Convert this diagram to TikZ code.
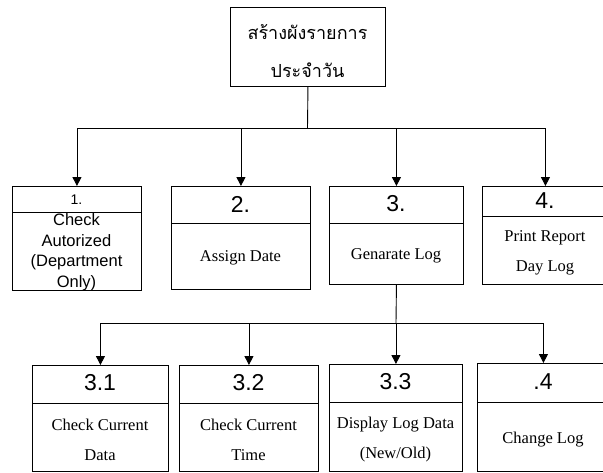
\documentclass[tikz,border=0pt]{standalone}
\usepackage{fontspec}
\setmainfont{Liberation Serif}
\newfontfamily\numfont{Liberation Sans}
\newfontfamily\thaifont[Script=Thai]{Loma}
\usetikzlibrary{arrows.meta}
\tikzset{
  box/.style={draw, line width=0.9pt, anchor=north west, inner sep=0pt},
  bignum/.style={font=\numfont\fontsize{23}{23}\selectfont, inner sep=0pt},
  smallnum/.style={font=\numfont\fontsize{14}{14}\selectfont, inner sep=0pt},
  sanstext/.style={font=\numfont\fontsize{16.5}{20.5}\selectfont, align=center, inner sep=0pt},
  sertext/.style={font=\fontsize{16.5}{30}\selectfont, align=center, inner sep=0pt},
  divider/.style={line width=0.9pt},
  conn/.style={line width=0.9pt, -{Triangle[width=9pt,length=9pt]}},
  plain/.style={line width=0.9pt}
}
\begin{document}
\begin{tikzpicture}[x=1pt,y=-1pt]
\clip (0,0) rectangle (603,472);
\fill[white] (0,0) rectangle (603,472);
% top box
\node[box, minimum width=155pt, minimum height=79pt] (top) at (230,7) {};
\node[font=\thaifont\fontsize{18}{38}\selectfont, align=center, inner sep=0pt] (toptext) at (307.5,51) {สร้างผังรายการ\\ประจำวัน};
% level 1 boxes
\node[box, minimum width=129pt, minimum height=104pt] (b1) at (12,186) {};
\draw[divider] (b1.west |- 0,212) -- (b1.east |- 0,212);
\node[smallnum] (b1n) at (76.5,200) {1.};
\node[sanstext] (b1t) at (76.5,252) {Check\\Autorized\\(Department\\Only)};

\node[box, minimum width=139pt, minimum height=103pt] (b2) at (171,186) {};
\draw[divider] (b2.west |- 0,223) -- (b2.east |- 0,223);
\node[bignum] (b2n) at (240.5,204) {2.};
\node[sertext] (b2t) at (240.5,258) {Assign Date};

\node[box, minimum width=134pt, minimum height=98pt] (b3) at (329,186) {};
\draw[divider] (b3.west |- 0,223) -- (b3.east |- 0,223);
\node[bignum] (b3n) at (396,204) {3.};
\node[sertext] (b3t) at (396,256) {Genarate Log};

\node[box, minimum width=126pt, minimum height=98pt] (b4) at (482,186) {};
\draw[divider] (b4.west |- 0,216) -- (b4.east |- 0,216);
\node[bignum] (b4n) at (545,201) {4.};
\node[sertext] (b4t) at (545,253) {Print Report\\Day Log};

% level 2 boxes
\node[box, minimum width=136pt, minimum height=106pt] (c1) at (32,365) {};
\draw[divider] (c1.west |- 0,403) -- (c1.east |- 0,403);
\node[bignum] (c1n) at (100,383) {3.1};
\node[sertext] (c1t) at (100,440) {Check Current\\Data};

\node[box, minimum width=139pt, minimum height=106pt] (c2) at (179,365) {};
\draw[divider] (c2.west |- 0,403) -- (c2.east |- 0,403);
\node[bignum] (c2n) at (248.5,383) {3.2};
\node[sertext] (c2t) at (248.5,440) {Check Current\\Time};

\node[box, minimum width=133pt, minimum height=107pt] (c3) at (329,364) {};
\draw[divider] (c3.west |- 0,402) -- (c3.east |- 0,402);
\node[bignum] (c3n) at (395.5,382) {3.3};
\node[sertext] (c3t) at (395.5,440) {Display Log Data\\(New/Old)};

\node[box, minimum width=132pt, minimum height=108pt] (c4) at (477,363) {};
\draw[divider] (c4.west |- 0,402) -- (c4.east |- 0,402);
\node[bignum] (c4n) at (543,382) {.4};
\node[sertext] (c4t) at (543,440) {Change Log};

% connectors level 1
\coordinate (j1) at (307.5,128);
\draw[plain] (top.south) -- (j1);
\draw[conn] (j1) -| (b1.north);
\draw[conn] (j1) -| (b2.north);
\draw[conn] (j1) -| (b3.north);
\draw[conn] (j1) -| (b4.north);
% connectors level 2
\coordinate (j2) at (396,323);
\draw[plain] (b3.south) -- (j2);
\draw[conn] (j2) -| (c1.north);
\draw[conn] (j2) -| (c2.north);
\draw[conn] (j2) -| (c3.north);
\draw[conn] (j2) -| (c4.north);
\end{tikzpicture}
\end{document}
